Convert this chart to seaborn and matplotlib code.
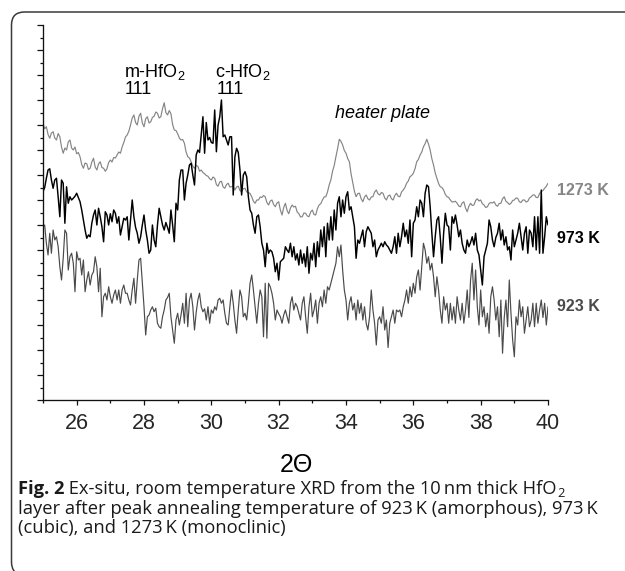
import numpy as np
import pandas as pd
import matplotlib
matplotlib.use("Agg")
import matplotlib.pyplot as plt
import seaborn as sns
from matplotlib.ticker import MultipleLocator, NullFormatter
from matplotlib.patches import FancyBboxPatch
from matplotlib.transforms import IdentityTransform

# ---- diffraction scans: 2-theta from 25 to 40 deg, 0.05 deg step ----
two_theta_start = 25.0
two_theta_step = 0.05

i_1273 = [
    1107, 1085, 1093, 1062, 1047, 1068, 1073, 1048, 1040, 1066,
    1053, 1012, 987, 1008, 1000, 1032, 1040, 1008, 1000, 1012,
    985, 990, 973, 942, 927, 948, 945, 922, 927, 952,
    967, 932, 920, 944, 953, 930, 927, 915, 925, 950,
    960, 952, 970, 968, 980, 992, 987, 1012, 1030, 1052,
    1060, 1075, 1100, 1128, 1140, 1110, 1100, 1135, 1147, 1108,
    1093, 1125, 1133, 1108, 1113, 1130, 1135, 1152, 1147, 1128,
    1133, 1165, 1189, 1150, 1140, 1158, 1145, 1102, 1080, 1078,
    1065, 1048, 1040, 1042, 1027, 992, 973, 968, 953, 935,
    927, 938, 935, 915, 920, 910, 905, 898, 895, 885,
    880, 892, 887, 862, 855, 872, 875, 852, 847, 862,
    867, 852, 853, 856, 840, 852, 855, 838, 833, 845,
    847, 832, 830, 826, 813, 795, 787, 800, 800, 812,
    810, 818, 813, 790, 780, 796, 800, 782, 773, 788,
    793, 760, 740, 770, 787, 758, 745, 768, 780, 772,
    775, 752, 745, 732, 733, 748, 747, 736, 733, 752,
    760, 742, 740, 765, 780, 785, 800, 812, 813, 832,
    860, 880, 915, 938, 973, 1005, 1043, 1035, 1020, 998,
    987, 966, 953, 905, 870, 835, 813, 826, 827, 805,
    793, 812, 820, 805, 800, 812, 813, 832, 840, 825,
    820, 830, 827, 808, 800, 816, 820, 805, 800, 818,
    827, 815, 813, 832, 840, 850, 867, 876, 893, 898,
    907, 925, 953, 962, 980, 992, 1013, 1025, 1043, 1024,
    1000, 965, 940, 908, 887, 866, 853, 850, 840, 822,
    813, 810, 800, 792, 793, 795, 787, 776, 773, 788,
    793, 768, 753, 775, 787, 778, 780, 798, 805, 796,
    800, 785, 780, 770, 773, 786, 790, 788, 793, 780,
    775, 786, 787, 805, 813, 795, 790, 782, 787, 798,
    800, 808, 807, 793, 790, 800, 800, 792, 795, 808,
    813, 820, 820, 810, 810, 826, 833, 838, 847, 855,
    867,
]

i_973 = [
    833, 850, 887, 920, 925, 880, 847, 880, 887, 813,
    733, 880, 867, 707, 853, 787, 813, 800, 807, 815,
    827, 810, 793, 760, 720, 680, 647, 660, 653, 707,
    740, 760, 700, 767, 733, 693, 633, 753, 740, 700,
    745, 713, 760, 747, 707, 733, 660, 693, 727, 720,
    733, 640, 720, 800, 733, 690, 667, 627, 653, 700,
    740, 680, 640, 587, 600, 700, 640, 613, 700, 767,
    733, 700, 680, 710, 690, 667, 760, 700, 633, 787,
    760, 880, 920, 920, 800, 867, 900, 940, 947, 900,
    860, 980, 1000, 990, 1060, 1133, 987, 1110, 1040, 1050,
    1030, 1027, 1160, 993, 1100, 1133, 1200, 1053, 1060, 1040,
    1020, 1053, 1053, 820, 973, 1007, 990, 920, 820, 900,
    913, 893, 813, 760, 747, 700, 667, 733, 740, 693,
    627, 600, 533, 627, 587, 600, 593, 567, 513, 547,
    480, 553, 560, 567, 613, 600, 590, 627, 573, 613,
    560, 585, 540, 600, 547, 585, 533, 613, 507, 587,
    560, 627, 533, 633, 573, 680, 613, 693, 573, 707,
    640, 733, 640, 760, 680, 787, 813, 733, 800, 747,
    813, 833, 760, 773, 733, 693, 567, 640, 627, 653,
    680, 613, 673, 693, 680, 667, 613, 640, 573, 600,
    613, 627, 613, 633, 620, 613, 600, 587, 613, 653,
    587, 667, 613, 653, 707, 653, 680, 627, 720, 573,
    707, 720, 773, 733, 800, 787, 733, 827, 860, 853,
    773, 667, 573, 653, 720, 733, 650, 547, 667, 747,
    700, 693, 600, 733, 707, 740, 700, 653, 680, 627,
    600, 587, 640, 613, 630, 653, 620, 667, 600, 580,
    520, 460, 573, 600, 627, 720, 693, 640, 613, 650,
    667, 707, 640, 680, 620, 653, 600, 613, 560, 680,
    613, 640, 667, 707, 653, 600, 667, 693, 587, 680,
    667, 613, 733, 600, 733, 587, 840, 587, 653, 733,
    700,
]

i_923 = [
    693, 700, 627, 580, 667, 587, 680, 640, 653, 613,
    533, 480, 567, 680, 667, 520, 573, 587, 547, 433,
    593, 560, 567, 500, 560, 433, 480, 513, 460, 500,
    513, 573, 533, 433, 527, 333, 413, 427, 400, 453,
    413, 387, 420, 440, 400, 440, 387, 440, 460, 427,
    427, 400, 380, 440, 487, 387, 480, 560, 567, 467,
    373, 260, 333, 340, 360, 373, 353, 367, 307, 293,
    287, 333, 360, 400, 410, 427, 333, 280, 227, 320,
    347, 300, 340, 387, 307, 427, 293, 400, 427, 373,
    280, 350, 400, 427, 373, 353, 365, 320, 373, 307,
    360, 347, 373, 360, 400, 407, 387, 400, 347, 307,
    300, 373, 440, 387, 320, 267, 360, 440, 413, 333,
    347, 320, 387, 467, 500, 440, 373, 307, 387, 440,
    413, 253, 467, 247, 467, 453, 427, 387, 320, 360,
    345, 333, 307, 340, 360, 333, 307, 387, 413, 360,
    387, 373, 347, 320, 387, 413, 333, 267, 373, 427,
    333, 360, 400, 307, 387, 413, 373, 440, 387, 453,
    440, 467, 493, 520, 547, 613, 573, 620, 520, 440,
    400, 320, 387, 413, 360, 387, 320, 400, 347, 387,
    320, 373, 307, 280, 333, 440, 360, 307, 220, 320,
    333, 307, 373, 280, 320, 210, 307, 333, 360, 307,
    360, 353, 360, 333, 373, 400, 440, 387, 453, 413,
    467, 427, 493, 520, 440, 533, 627, 600, 547, 573,
    520, 547, 493, 413, 493, 440, 360, 307, 413, 360,
    387, 307, 387, 320, 373, 307, 413, 360, 320, 387,
    307, 360, 440, 330, 480, 547, 400, 520, 373, 300,
    440, 333, 373, 293, 347, 267, 413, 453, 400, 320,
    373, 253, 400, 187, 330, 400, 293, 480, 347, 240,
    173, 333, 300, 400, 333, 373, 267, 320, 373, 293,
    320, 387, 293, 387, 307, 360, 400, 330, 387, 300,
    373,
]

series_labels = ["1273 K", "973 K", "923 K"]
series_colors = ["#858585", "#000000", "#4a4a4a"]
series_widths = [0.85, 1.05, 0.85]
label_y = [820, 629, 356]          # baseline of the temperature tags (intensity units)

x_major_ticks = [26, 28, 30, 32, 34, 36, 38, 40]

peak_labels = ["m-HfO$_2$", "c-HfO$_2$"]
peak_label_x = [27.41, 30.11]
index_label = "111"
index_label_x = [27.41, 30.17]

# ---- long-form table ----
n_pts = len(i_1273)
assert len(i_973) == n_pts and len(i_923) == n_pts == 301
two_theta = np.round(two_theta_start + two_theta_step * np.arange(n_pts), 2)
frames = []
for lab, vals in zip(series_labels, [i_1273, i_973, i_923]):
    frames.append(pd.DataFrame({"two_theta": two_theta, "intensity": vals, "anneal": lab}))
df = pd.concat(frames, ignore_index=True)

# ---- styling ----
sns.set_style("ticks")
plt.rcParams["font.family"] = ["Liberation Sans", "DejaVu Sans"]
plt.rcParams["mathtext.fontset"] = "custom"
plt.rcParams["mathtext.rm"] = "Liberation Sans"
plt.rcParams["mathtext.it"] = "Liberation Sans:italic"
plt.rcParams["mathtext.bf"] = "Liberation Sans:bold"

W, H = 625, 571
fig = plt.figure(figsize=(W / 100, H / 100), dpi=100)
fig.patch.set_facecolor("white")
ax = fig.add_axes([43 / W, 1 - 400 / H, (548 - 43) / W, 375 / H])
ax.set_facecolor("none")

for lab, col, lw in zip(series_labels, series_colors, series_widths):
    sns.lineplot(data=df[df["anneal"] == lab], x="two_theta", y="intensity",
                 color=col, linewidth=lw, estimator=None, sort=False, ax=ax,
                 legend=False)

ax.set_xlim(25, 40)
ax.set_ylim(0, 1500)
ax.set_xlabel("")
ax.set_ylabel("")
sns.despine(ax=ax)
for side in ("left", "bottom"):
    ax.spines[side].set_linewidth(0.95)
    ax.spines[side].set_color("#111111")

ax.set_xticks(x_major_ticks)
ax.set_xticklabels([str(t) for t in x_major_ticks])
ax.xaxis.set_minor_locator(MultipleLocator(1))
ax.yaxis.set_major_locator(MultipleLocator(100))
ax.yaxis.set_minor_locator(MultipleLocator(50))
ax.yaxis.set_major_formatter(NullFormatter())
ax.tick_params(axis="x", which="major", direction="out", length=3.6, width=0.9,
               labelsize=15.5, pad=5.5, color="#111111")
ax.tick_params(axis="x", which="minor", direction="out", length=2.4, width=0.9,
               color="#111111")
ax.tick_params(axis="y", which="major", direction="out", length=4.6, width=0.9,
               color="#111111")
ax.tick_params(axis="y", which="minor", direction="out", length=2.2, width=0.9,
               color="#111111")

# temperature tags at the right end of each scan
for lab, col, yv in zip(series_labels, series_colors, label_y):
    ax.text(40.27, yv, lab, color=col, fontsize=11.5, fontweight="bold",
            ha="left", va="baseline", clip_on=False)

# reflection labels
for lab, xv in zip(peak_labels, peak_label_x):
    ax.text(xv, 1294, lab, fontsize=13, ha="left", va="baseline", color="black")
for xv in index_label_x:
    ax.text(xv, 1222, index_label, fontsize=13, ha="left", va="baseline", color="black")
ax.text(33.67, 1128, "heater plate", fontsize=13, style="italic",
        ha="left", va="baseline", color="black")

# axis title
fig.text(296, H - 465, "2\u0398", transform=IdentityTransform(), fontsize=18,
         ha="center", va="center", color="black")

# caption below the plot
renderer = fig.canvas.get_renderer()
cap_font = ["Open Sans", "DejaVu Sans"]
cap_size = 13.2


def draw_runs(x0, baseline, runs):
    x = x0
    for s, weight, size, dy in runs:
        t = fig.text(x, H - baseline + dy, s, transform=IdentityTransform(),
                     family=cap_font, fontsize=size, fontweight=weight,
                     ha="left", va="baseline", color="#1a1a1a")
        x = t.get_window_extent(renderer).x1


draw_runs(18, 493.5, [
    ("Fig. 2", "bold", cap_size, 0),
    (" Ex-situ, room temperature XRD from the 10\u2009nm thick HfO", "normal", cap_size, 0),
    ("2", "normal", cap_size * 0.7, -3.5),
])
draw_runs(18, 513.5, [
    ("layer after peak annealing temperature of 923\u2009K (amorphous), 973\u2009K",
     "normal", cap_size, 0),
])
draw_runs(18, 533.5, [
    ("(cubic), and 1273\u2009K (monoclinic)", "normal", cap_size, 0),
])

# rounded frame around the figure panel
frame = FancyBboxPatch((11.5, -4), 720, H - 12 + 4, boxstyle="round,pad=0,rounding_size=13",
                       transform=IdentityTransform(), fill=False, edgecolor="#3a3a3a",
                       linewidth=1.1, clip_on=False)
fig.patches.append(frame)

fig.savefig("out.png", dpi=100, facecolor="white")
